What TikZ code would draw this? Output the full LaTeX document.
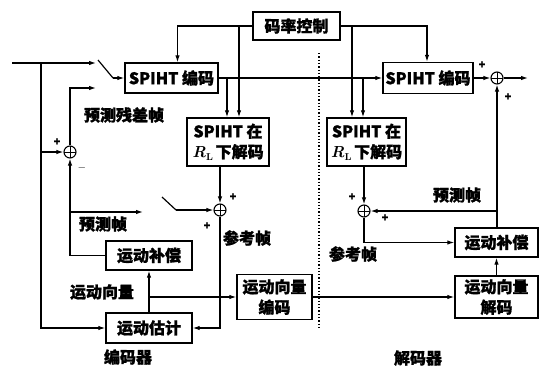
\documentclass[tikz,border=0pt]{standalone}
\usepackage{fontspec}
\newfontfamily\cjk[BoldFeatures={FakeBold=1.2}]{Noto Sans CJK SC}
\usetikzlibrary{arrows.meta}
\newcommand{\myRL}{{\rmfamily\bfseries\itshape R}{\rmfamily\fontsize{10}{10}\selectfont\raisebox{-2.5pt}{L}}}
\tikzset{
  box/.style={draw, line width=1.4pt, inner sep=0pt, align=center,
    font=\cjk\bfseries\fontsize{16}{20.5}\selectfont},
  lbl/.style={inner sep=0pt, font=\cjk\bfseries\fontsize{16}{18}\selectfont},
  sgn/.style={inner sep=0pt, font=\cjk\bfseries\fontsize{11}{11}\selectfont},
  sumc/.style={draw, circle, line width=1.1pt, minimum size=12pt, inner sep=0pt,
    path picture={\draw[line width=0.9pt]
      (path picture bounding box.north) -- (path picture bounding box.south)
      (path picture bounding box.west) -- (path picture bounding box.east);}},
  conn/.style={line width=1.2pt},
  arr/.style={conn, -{Latex[length=7pt,width=4.5pt]}},
}
\begin{document}
\begin{tikzpicture}[x=1pt,y=-1pt]
\useasboundingbox (0,0) rectangle (541,367);
% boxes
\node[box, minimum width=87pt, minimum height=28pt] (rc) at (296.5,26) {码率控制};
\node[box, minimum width=93pt, minimum height=30pt] (enc1) at (171.5,78) {SPIHT 编码};
\node[box, minimum width=82pt, minimum height=48pt] (dec1) at (228,142) {SPIHT 在\\\myRL\,下解码};
\node[box, minimum width=86pt, minimum height=29pt] (mc1) at (149,255.5) {运动补偿};
\node[box, minimum width=86pt, minimum height=30pt] (me1) at (149,328) {运动估计};
\node[box, minimum width=75pt, minimum height=45pt] (mve) at (274.5,297) {运动向量\\编码};
\node[box, minimum width=90pt, minimum height=31pt] (enc2) at (428,78) {SPIHT 编码};
\node[box, minimum width=79pt, minimum height=48pt] (dec2) at (366.5,142) {SPIHT 在\\\myRL\,下解码};
\node[box, minimum width=83pt, minimum height=29pt] (mc2) at (496.5,242.5) {运动补偿};
\node[box, minimum width=83pt, minimum height=42pt] (mvd) at (496.5,297) {运动向量\\解码};
% summing junctions
\node[sumc] (s0) at (70,152) {};
\node[sumc] (s1) at (220,210) {};
\node[sumc] (s2) at (364,211) {};
\node[sumc] (s3) at (497,78) {};
% coordinates
\coordinate (in) at (12,63);
\coordinate (j0) at (41,63);
\coordinate (c1) at (96,63);
\coordinate (c2) at (96,88);
\coordinate (sw1a) at (98,60);
\coordinate (sw1b) at (113,78);
\coordinate (pf) at (143,212);
\coordinate (sw2a) at (162,197);
\coordinate (sw2b) at (176,210);
\coordinate (a1) at ([xshift=-1pt]dec1.north);
\coordinate (a2) at ([xshift=11pt]dec1.north);
\coordinate (b1) at ([xshift=-14.5pt]dec2.north);
\coordinate (b2) at ([xshift=-3.5pt]dec2.north);
\coordinate (out) at (528,78);
\coordinate (dt) at (319,53);
\coordinate (db) at (319,327);
% encoder connectors
\draw[arr] (in) -- (c1);
\draw[conn] (sw1a) -- (sw1b);
\draw[arr] (sw1b) -- (enc1.west);
\draw[arr] (s0.north) |- (c2);
\draw[arr] (j0) |- (me1.west);
\draw[arr] (j0 |- s0) -- (s0.west);
\draw[arr] (mc1.west) -| (s0.south);
\draw[arr] (s0 |- pf) -- (pf);
\draw[conn] (sw2a) -- (sw2b);
\draw[arr] (sw2b) -- (s1.west);
\draw[arr] (dec1.south -| s1) -- (s1.north);
\draw[arr] (s1.south) |- (me1.east);
\draw[arr] (me1.north) -- (mc1.south);
\draw[arr] (me1.north |- mve) -- (mve.west);
\draw[arr] (rc.west) -| ([xshift=6pt]enc1.north);
\draw[arr] (rc.west -| a2) -- (a2);
\draw[arr] (enc1.east -| a1) -- (a1);
\draw[arr] (enc1.east) -- (enc2.west);
% decoder connectors
\draw[arr] (rc.east) -| ([xshift=-1pt]enc2.north);
\draw[arr] (rc.east -| b1) -- (b1);
\draw[arr] (enc1.east -| b2) -- (b2);
\draw[arr] (enc2.east) -- (s3.west);
\draw[arr] (s3.east) -- (out);
\draw[arr] (mc2.north -| s3) -- (s3.south);
\draw[arr] (s3 |- s2) -- (s2.east);
\draw[arr] (s2.south) |- (mc2.west);
\draw[arr] (dec2.south -| s2) -- (s2.north);
\draw[arr] (mve.east) -- (mvd.west);
\draw[arr] (mvd.north) -- (mc2.south);
\draw[dotted, line width=1.3pt] (dt) -- (db);
% labels
\node[lbl] (l1) at (124,115) {预测残差帧};
\node[lbl] (l2) at (103,224) {预测帧};
\node[lbl] (l3) at (247,238) {参考帧};
\node[lbl] (l4) at (102,292) {运动向量};
\node[lbl] (l5) at (128,357) {编码器};
\node[lbl] (l6) at (457,195) {预测帧};
\node[lbl] (l7) at (353,254) {参考帧};
\node[lbl] (l8) at (418,358) {解码器};
% signs
\node[sgn] (p1) at (57,142) {+};
\node[sgn] (p2) at (82,168) {$-$};
\node[sgn] (p3) at (233,197) {+};
\node[sgn] (p4) at (207,226) {+};
\node[sgn] (p5) at (352,197) {+};
\node[sgn] (p6) at (385,218) {+};
\node[sgn] (p7) at (482,65) {+};
\node[sgn] (p8) at (508,97) {+};
\end{tikzpicture}
\end{document}
